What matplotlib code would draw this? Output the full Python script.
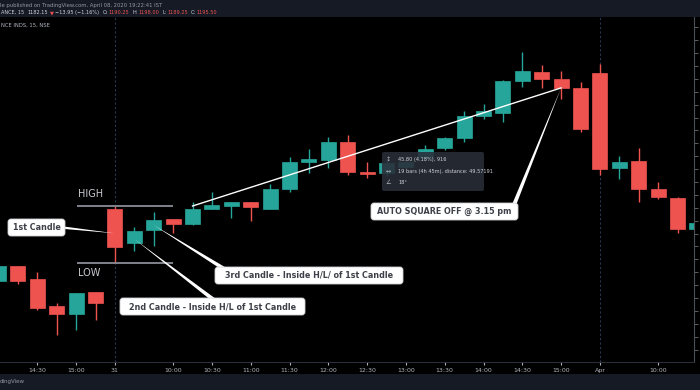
import numpy as np
import matplotlib
matplotlib.use('Agg')
import matplotlib.pyplot as plt
from matplotlib.patches import Rectangle, FancyBboxPatch, Polygon
from matplotlib.transforms import IdentityTransform

# 15 min candles, RELIANCE INDS (30 Mar 14:00 -> 1 Apr 10:30)
opens = [1066.6, 1072.4, 1067.4, 1056.9, 1053.8, 1062.35, 1094.55, 1081.35, 1086.4, 1090.65,
         1088.7, 1094.55, 1095.7, 1097.25, 1094.55, 1102.3, 1112.8, 1113.55, 1120.55, 1108.9,
         1108.5, 1110.85, 1114.3, 1118.2, 1122.1, 1130.6, 1131.8, 1144.2, 1147.7, 1145.0,
         1141.5, 1147.3, 1110.45, 1113.15, 1102.3, 1098.8, 1086.8]
highs = [1073.6, 1072.6, 1070.1, 1058.05, 1062.1, 1062.5, 1095.6, 1087.55, 1093.35, 1090.8,
         1097.25, 1101.15, 1097.4, 1097.4, 1104.25, 1114.7, 1117.8, 1122.45, 1123.25, 1112.8,
         1113.6, 1114.5, 1119.35, 1122.5, 1132.55, 1135.3, 1144.4, 1155.45, 1150.4, 1148.1,
         1143.8, 1150.8, 1115.1, 1118.2, 1105.0, 1099.2, 1090.3]
lows = [1065.45, 1065.45, 1055.35, 1045.65, 1047.6, 1051.45, 1073.6, 1078.25, 1080.2, 1085.2,
        1088.5, 1094.35, 1091.05, 1089.9, 1094.35, 1101.15, 1108.5, 1110.45, 1107.75, 1106.55,
        1107.5, 1109.6, 1113.2, 1117.4, 1120.55, 1129.45, 1128.3, 1141.85, 1141.5, 1137.2,
        1124.4, 1107.75, 1106.2, 1097.25, 1098.4, 1085.2, 1086.0]
closes = [1072.4, 1066.6, 1056.1, 1053.8, 1061.95, 1058.05, 1079.8, 1086.0, 1090.3, 1088.7,
          1094.55, 1096.1, 1097.25, 1095.3, 1102.3, 1112.8, 1113.95, 1120.55, 1108.9, 1108.1,
          1112.4, 1112.8, 1117.8, 1122.1, 1130.6, 1132.55, 1144.2, 1148.1, 1145.0, 1141.5,
          1125.6, 1110.05, 1112.8, 1102.3, 1099.2, 1086.8, 1089.1]

tick_pos = [2, 4, 6, 9, 11, 13, 15, 17, 19, 21, 23, 25, 27, 29, 31, 34]
tick_labels = ['14:30', '15:00', '31', '10:00', '10:30', '11:00', '11:30', '12:00', '12:30',
               '13:00', '13:30', '14:00', '14:30', '15:00', 'Apr', '10:00']
day_breaks = [6, 31]

# trend line (measure tool) from 10:15 to 15:00
trend_x = [10, 29]
trend_y = [1095.7, 1141.5]

UP = '#26a69a'
DOWN = '#ef5350'
W, H = 700, 390

fig = plt.figure(figsize=(7, 3.9), dpi=100, facecolor='black')
ax = fig.add_axes([0, (H - 362) / H, 694 / W, (362 - 17) / H])
ax.set_facecolor('black')

x = np.arange(len(opens))
o = np.array(opens); c = np.array(closes)
cols = [UP if cc >= oo else DOWN for oo, cc in zip(o, c)]
ax.vlines(x, lows, highs, colors=cols, linewidth=1, zorder=2)
body_h = np.maximum(np.abs(c - o), 0.35)
ax.bar(x, body_h, bottom=np.minimum(o, c), width=0.78, color=cols, edgecolor=cols,
       linewidth=0.5, zorder=3)

for d in day_breaks:
    ax.axvline(d, color='#2a3550', linewidth=0.8, linestyle=(0, (2, 2)), zorder=1)

# high / low of the 1st candle
ax.hlines([highs[6], lows[6]], 4.05, 9.0, colors='#8a8d96', linewidth=1.3, zorder=2)
ax.text(4.1, highs[6] + 4.6, 'HIGH', color='#c9cbd1', fontsize=7, va='center', ha='left')
ax.text(4.1, lows[6] - 3.8, 'LOW', color='#c9cbd1', fontsize=7, va='center', ha='left')

ax.plot(trend_x, trend_y, color='white', linewidth=1, zorder=4)

ax.set_xlim(0.077, 35.85)
ax.set_ylim(1035.2, 1169.0)
ax.set_xticks(tick_pos)
ax.set_xticklabels(tick_labels)
ax.set_yticks(np.arange(1040, 1170, 5))
ax.tick_params(axis='x', colors='#b2b5be', labelsize=4.5, length=2, pad=2)
ax.tick_params(axis='y', right=True, left=False, labelleft=False, labelright=False,
               colors='#6a6d78', length=3, width=0.6)
for s in ['top', 'left']:
    ax.spines[s].set_visible(False)
ax.spines['bottom'].set_color('#2a2e39')
ax.spines['right'].set_color('#4a4e59')


def to_disp(px, py):
    return (px, H - py)


def data_px(xi, yv):
    dx, dy = ax.transData.transform((xi, yv))
    return dx, H - dy


def callout(text, box, tip, base, width):
    x0, y0, x1, y1 = box
    tx, ty = tip
    bx, by = base
    v = np.array([bx - tx, by - ty], dtype=float)
    n = np.array([-v[1], v[0]]) / np.hypot(*v) * width / 2
    pts = [to_disp(tx, ty), to_disp(bx + n[0], by + n[1]), to_disp(bx - n[0], by - n[1])]
    fig.add_artist(Polygon(pts, closed=True, facecolor='white', edgecolor='none',
                           transform=IdentityTransform(), zorder=5))
    fig.add_artist(FancyBboxPatch(to_disp(x0, y1), x1 - x0, y1 - y0,
                                  boxstyle='round,pad=0,rounding_size=3',
                                  facecolor='white', edgecolor='#cfd1d6', linewidth=0.6,
                                  transform=IdentityTransform(), zorder=6))
    fig.text((x0 + x1) / 2 / W, 1 - (y0 + y1) / 2 / H, text, ha='center', va='center',
             fontsize=5.8, fontweight='bold', color='#3e4049', zorder=7)


fig.canvas.draw()
callout('1st Candle', (8, 219, 65, 236), data_px(6, 1085.1), (62, 227.5), 2.5)
callout('2nd Candle - Inside H/L of 1st Candle', (120, 298, 305, 315),
        data_px(7, 1082.9), (214, 300), 4)
callout('3rd Candle - Inside H/L/ of 1st Candle', (215, 267, 403, 284),
        data_px(8, 1088.3), (226, 270), 4)
callout('AUTO SQUARE OFF @ 3.15 pm', (371, 203, 518, 220),
        data_px(trend_x[1], trend_y[1]), (514, 205), 4)

# measure tooltip
fig.add_artist(FancyBboxPatch(to_disp(382, 191), 102, 39,
                              boxstyle='round,pad=0,rounding_size=2',
                              facecolor='#2a2e39', edgecolor='none', alpha=0.88,
                              transform=IdentityTransform(), zorder=5))
tip_lines = [('↕', '45.80 (4.18%), 916', 159),
             ('↔', '19 bars (4h 45m), distance: 49.57191', 171),
             ('∠', '18°', 182)]
for icon, txt, yy in tip_lines:
    fig.text(388 / W, 1 - yy / H, icon, color='#b2b5be', fontsize=4.5, ha='center', va='center', zorder=6)
    fig.text(398 / W, 1 - yy / H, txt, color='#d1d4dc', fontsize=3.6, ha='left', va='center', zorder=6)

# header and footer bars
fig.add_artist(Rectangle((0, 1 - 17 / H), 1, 17 / H, transform=fig.transFigure,
                         facecolor='#161a25', edgecolor='none', zorder=0))
fig.add_artist(Rectangle((0, 0), 1, 16 / H, transform=fig.transFigure,
                         facecolor='#161a25', edgecolor='none', zorder=0))
fig.text(0, 1 - 5 / H, 'le published on TradingView.com, April 08, 2020 19:22:41 IST',
         color='#9598a1', fontsize=3.8, va='center', ha='left')

# symbol line: each piece placed right after the previous one
parts = [('ANCE, 15', '#d1d4dc', 3), ('1182.15', '#d1d4dc', 2), ('▼', DOWN, 1.5),
         ('−13.95 (−1.16%)', '#d1d4dc', 4), ('O:', '#d1d4dc', 0.5), ('1190.25', DOWN, 3),
         ('H:', '#d1d4dc', 0.5), ('1198.00', DOWN, 3), ('L:', '#d1d4dc', 0.5),
         ('1189.25', DOWN, 3), ('C:', '#d1d4dc', 0.5), ('1195.50', DOWN, 3)]
renderer = fig.canvas.get_renderer()
cur = 1.0
for txt, col, gap in parts:
    t = fig.text(cur / W, 1 - 12.5 / H, txt, color=col, fontsize=3.6, va='center', ha='left')
    cur += t.get_window_extent(renderer).width + gap
fig.text(1 / W, 1 - 25 / H, 'NCE INDS, 15, NSE', color='#b2b5be', fontsize=3.8,
         va='center', ha='left')
fig.text(0, 8 / H, 'dingView', color='#9598a1', fontsize=4, va='center', ha='left')

fig.savefig('out.png', dpi=100, facecolor='black')
